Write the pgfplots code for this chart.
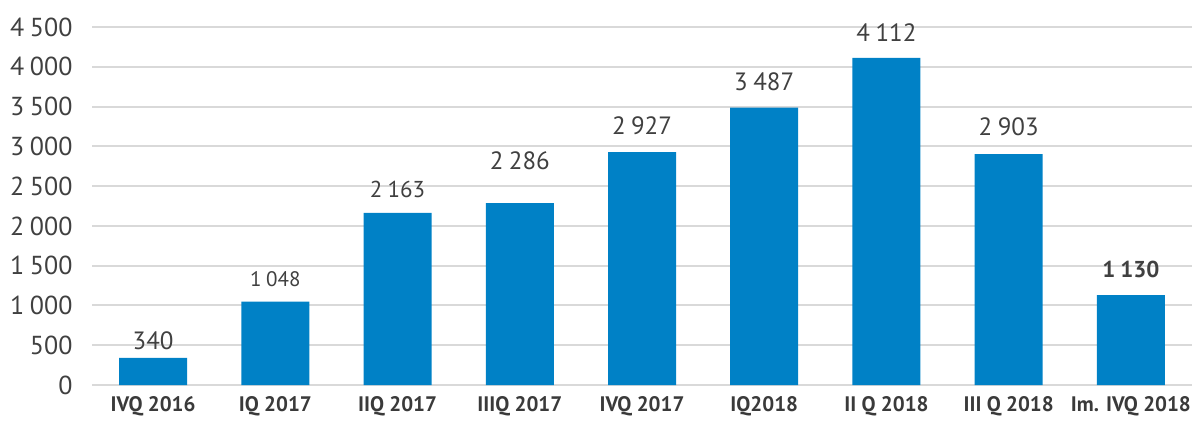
\documentclass[border=0pt]{standalone}
\usepackage{pgfplots}
\pgfplotsset{compat=1.18}
\usepackage{pgfplotstable}
\usepackage{fontspec}
\setmainfont{PT Sans}
\definecolor{barblue}{HTML}{0081C6}
\definecolor{gridgray}{HTML}{D9D9D9}
\definecolor{txt}{HTML}{404040}
\pgfkeys{/pgf/number format/.cd,1000 sep={\hspace{0.22em}},assume math mode=true}
\pgfplotstableread{
x y dy fs bf
0 340 8 25 0
1 1048 15 21 0
2 2163 15 23 0
3 2286 33 25 0
4 2927 17 25 0
5 3487 17 25 0
6 4112 16 25 0
7 2903 18 25 0
8 1130 17 23 1
}\datatable
\begin{document}
\begin{tikzpicture}
\begin{axis}[
  name=ax,
  scale only axis,
  width=1100pt, height=358pt,
  xmin=-0.5, xmax=8.5, ymin=0, ymax=4500,
  axis lines=none,
  ymajorgrids,
  grid style={gridgray, line width=2pt},
  ytick={0,500,...,4500},
  xtick={0,...,8},
  xticklabels={IVQ 2016, IQ 2017, IIQ 2017, IIIQ 2017, IVQ 2017, IQ2018, II Q 2018, III Q 2018, Im. IVQ 2018},
  hide x axis=false, hide y axis=false,
  x axis line style={draw=none}, y axis line style={draw=none},
  major tick length=0pt,
  yticklabel style={font=\fontsize{26}{30}\selectfont, text=txt, anchor=east, xshift=-16pt},
  xticklabel style={font=\fontsize{21}{25}\selectfont\bfseries, text=txt!90!black, anchor=north, yshift=-8pt},
  /pgf/number format/assume math mode=true,
  yticklabel={\pgfmathprintnumber{\tick}},
]
\addplot[ybar, bar width=68pt, fill=barblue, draw=none,
  visualization depends on={\thisrow{dy} \as \dy},
  visualization depends on={\thisrow{fs} \as \fs},
  visualization depends on={\thisrow{bf} \as \bfv},
  nodes near coords={\ifdim\bfv pt>0.5pt \bfseries\fi\fontsize{\fs}{\fs}\selectfont\pgfmathprintnumber{\pgfplotspointmeta}},
  nodes near coords style={anchor=south, inner sep=0pt, yshift=\dy pt, text=txt}
] table[x=x,y=y] {\datatable};
\end{axis}
\pgfresetboundingbox
\path ([xshift=-92pt,yshift=-35pt]ax.south west) rectangle ([yshift=27pt]ax.north east);
\end{tikzpicture}
\end{document}
